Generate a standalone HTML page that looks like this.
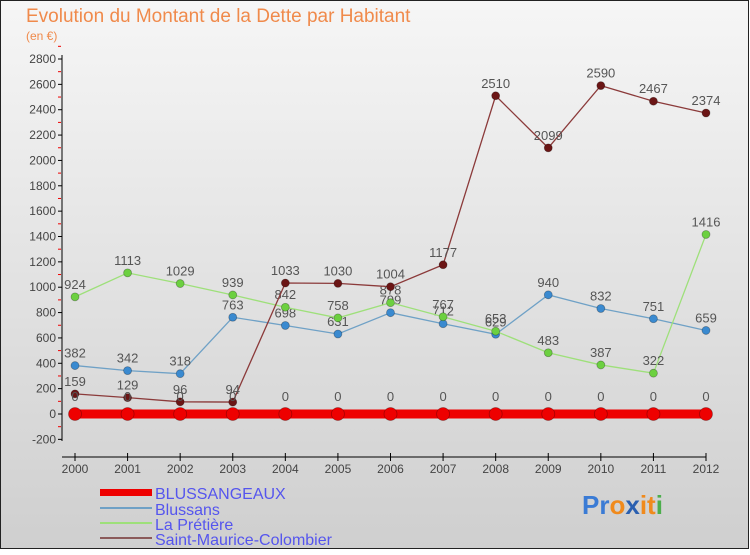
<!DOCTYPE html>
<html><head><meta charset="utf-8"><style>
body{margin:0;width:750px;height:550px;overflow:hidden;font-family:"Liberation Sans",sans-serif}
svg text{font-family:"Liberation Sans",sans-serif}
</style></head><body>
<svg id="c" width="750" height="550" xmlns="http://www.w3.org/2000/svg">
<defs><linearGradient id="bg" x1="0" y1="0" x2="0" y2="1"><stop offset="0" stop-color="#f6f6f6"/><stop offset="1" stop-color="#cfcfcf"/></linearGradient></defs>
<rect x="0.5" y="0.5" width="748" height="548" fill="url(#bg)" stroke="#222"/>
<text x="26" y="22" font-size="19" fill="#f08a4b">Evolution du Montant de la Dette par Habitant</text>
<text x="26" y="40" font-size="12" fill="#f08a4b">(en €)</text>
<g id="axes"></g><g id="series"></g>
<g>
<rect x="100" y="489" width="52" height="7" fill="#e00"/>
<text x="155" y="499" font-size="16" fill="#5555ee">BLUSSANGEAUX</text>
<line x1="100" y1="508" x2="152" y2="508" stroke="#6fa1c6" stroke-width="2"/>
<text x="155" y="515" font-size="16" fill="#5555ee">Blussans</text>
<line x1="100" y1="523" x2="152" y2="523" stroke="#9ee07a" stroke-width="2"/>
<text x="155" y="530" font-size="16" fill="#5555ee">La Prétière</text>
<line x1="100" y1="538" x2="152" y2="538" stroke="#8b5a5a" stroke-width="2"/>
<text x="155" y="545" font-size="16" fill="#5555ee">Saint-Maurice-Colombier</text>
</g>
<g font-size="26" font-weight="bold">
<text x="582" y="514"><tspan fill="#3a7bd5">Pr</tspan><tspan fill="#f08a1c">o</tspan><tspan fill="#2a5fb0">x</tspan><tspan fill="#f08a1c">it</tspan><tspan fill="#4cae4c">i</tspan></text>
</g>
</svg>
<script>
const years=["2000","2001","2002","2003","2004","2005","2006","2007","2008","2009","2010","2011","2012"];
const yTicks=[-200,0,200,400,600,800,1000,1200,1400,1600,1800,2000,2200,2400,2600,2800];
const blussangeaux=[0,0,0,0,0,0,0,0,0,0,0,0,0];
const blussans=[382,342,318,763,698,631,799,712,629,940,832,751,659];
const pretiere=[924,1113,1029,939,842,758,878,767,653,483,387,322,1416];
const stmaurice=[159,129,96,94,1033,1030,1004,1177,2510,2099,2590,2467,2374];
const NS="http://www.w3.org/2000/svg";
function X(i){return 75+i*(706-75)/12;}
function Y(v){return 414-v*(414-59)/2800;}
function mk(t,a,p){const e=document.createElementNS(NS,t);for(const k in a)e.setAttribute(k,a[k]);p.appendChild(e);return e;}
const ax=document.getElementById('axes');
mk('line',{x1:62,y1:55,x2:62,y2:441,stroke:'#000','stroke-width':1},ax);
mk('line',{x1:62,y1:457,x2:706,y2:457,stroke:'#000','stroke-width':1},ax);
yTicks.forEach(v=>{
 mk('line',{x1:58,y1:Y(v),x2:62,y2:Y(v),stroke:'#000'},ax);
 mk('line',{x1:58,y1:Y(v+100),x2:61,y2:Y(v+100),stroke:'#e00'},ax);
 const t=mk('text',{x:56,y:Y(v)+4,'font-size':12,'text-anchor':'end',fill:'#444'},ax);t.textContent=v;
 
 
});
years.forEach((y,i)=>{
 mk('line',{x1:X(i),y1:453,x2:X(i),y2:461,stroke:'#000'},ax);
 const t=mk('text',{x:X(i),y:465+8,'font-size':12,'text-anchor':'middle',fill:'#444'},ax);t.textContent=y;
 
 
});
const sg=document.getElementById('series');
function draw(name,vals,color,dot,w,r){
 const g=mk('g',{},sg);
 
 
 mk('polyline',{points:vals.map((v,i)=>X(i)+','+Y(v)).join(' '),fill:'none',stroke:color,'stroke-width':w},g);
 vals.forEach((v,i)=>{
  const c=mk('circle',{cx:X(i),cy:Y(v),r:r,fill:dot,stroke:'rgba(0,0,0,0.3)','stroke-width':0.8},g);
  
  
  const t=mk('text',{x:X(i),y:Y(v)-(name==='blussangeaux'?13:8),'font-size':13,'text-anchor':'middle',fill:'#555'},g);t.textContent=v;
 });
}
draw('blussans',blussans,'#6fa1c6','#3a8ad0',1.3,4);
draw('la-pretiere',pretiere,'#9ee07a','#6cd040',1.3,4);
draw('saint-maurice',stmaurice,'#8b3a3a','#6b1515',1.3,4);
draw('blussangeaux',blussangeaux,'#ee0000','#ee0000',9,6.5);
</script>
</body></html>
